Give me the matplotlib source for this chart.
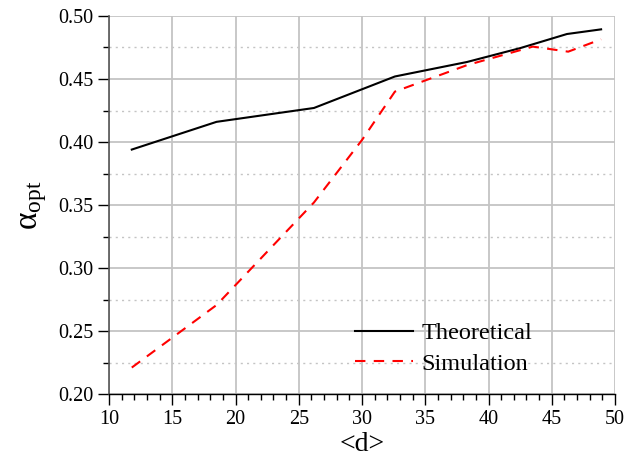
import matplotlib
matplotlib.use("Agg")
import matplotlib.pyplot as plt
from matplotlib.ticker import MultipleLocator

plt.rcParams['font.family'] = ['Liberation Serif', 'DejaVu Serif']
plt.rcParams['mathtext.fontset'] = 'custom'
plt.rcParams['mathtext.rm'] = 'Liberation Serif'
plt.rcParams['mathtext.it'] = 'Liberation Serif:italic'

theo_x = [11.8, 18.5, 26.2, 32.6, 38.3, 42.5, 46.2, 48.9]
theo_y = [0.394, 0.416, 0.427, 0.452, 0.4635, 0.4745, 0.4857, 0.4894]
sim_x = [11.8, 18.5, 26.2, 30.0, 32.6, 38.3, 43.5, 46.3, 48.9]
sim_y = [0.221, 0.2706, 0.352, 0.4016, 0.440, 0.461, 0.4757, 0.4717, 0.4815]

fig = plt.figure(figsize=(6.33, 4.61), dpi=100)
ax = fig.add_axes([0.1722, 0.1453, 0.7994, 0.82])

ax.set_xlim(10, 50)
ax.set_ylim(0.20, 0.50)
ax.xaxis.set_major_locator(MultipleLocator(5))
ax.xaxis.set_minor_locator(MultipleLocator(1))
ax.yaxis.set_major_locator(MultipleLocator(0.05))
ax.yaxis.set_minor_locator(MultipleLocator(0.025))

ax.grid(True, which='major', color='#c4c4c4', lw=1.3, ls='-')
ax.grid(True, which='minor', axis='y', color='#c4c4c4', lw=1.0, ls=(0, (1.5, 3)))
ax.set_axisbelow(True)

ax.spines['top'].set_visible(False)
ax.spines['right'].set_visible(False)
ax.spines['left'].set_color('#555555')
ax.spines['left'].set_linewidth(1.2)
ax.spines['bottom'].set_linewidth(1.0)

ax.tick_params(axis='both', which='major', direction='out', length=8, width=1.0, labelsize=14.5)
ax.tick_params(axis='both', which='minor', direction='out', length=4, width=1.0)
ax.set_yticklabels([f"{v:.2f}" for v in ax.get_yticks()])

ax.plot(theo_x, theo_y, color='black', lw=1.5, label='Theoretical')
ax.plot(sim_x, sim_y, color='red', lw=1.5, ls=(0, (5, 4)), label='Simulation')

ax.set_xlabel('<d>', fontsize=20, labelpad=2)
ax.set_ylabel(r'α$_{\mathrm{opt}}$', fontsize=24, labelpad=6)

leg = ax.legend(loc='lower right', bbox_to_anchor=(0.875, 0.0), frameon=False,
                fontsize=17.5, handlelength=2.4, handletextpad=0.35, labelspacing=0.35,
                borderaxespad=0.4)

fig.savefig('out.png', dpi=100)
